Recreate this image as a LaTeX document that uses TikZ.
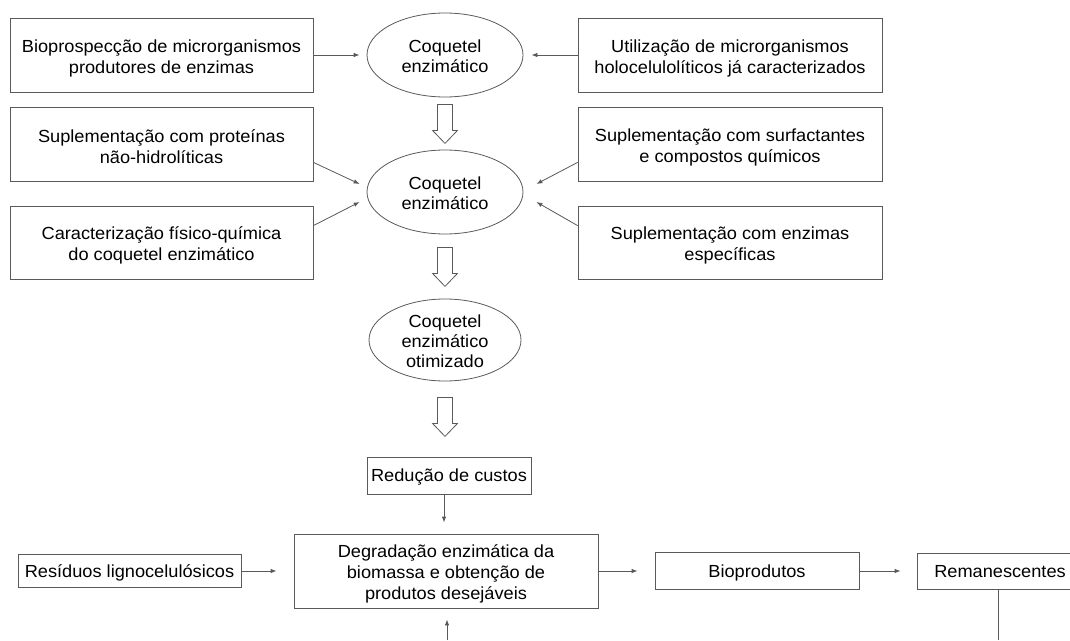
\documentclass[tikz,border=0pt]{standalone}
\usepackage{fontspec}
\setmainfont{Liberation Sans}[FakeStretch=1.04]
\usetikzlibrary{shapes.geometric,arrows.meta,calc}
\definecolor{linec}{RGB}{90,90,90}
\begin{document}
\begin{tikzpicture}[x=1pt,y=-1pt,
  every node/.style={font=\fontsize{17.5}{21}\selectfont, text=black},
  box/.style={draw=linec, line width=0.8pt, rectangle, inner sep=0pt, align=center},
  single/.style={text height=13pt, text depth=1pt},
  boxtext/.style={align=center, inner sep=0pt},
  oval/.style={draw=linec, line width=0.8pt, ellipse, inner sep=0pt, minimum width=156pt, minimum height=84pt},
  ovaltext/.style={align=center, inner sep=0pt, font=\fontsize{17.5}{20}\selectfont},
  conn/.style={draw=linec, line width=0.8pt, -{Latex[length=6pt,width=4.5pt]}},
  plainline/.style={draw=linec, line width=0.8pt},
  hollow/.style={draw=linec, line width=0.8pt, fill=white, line join=miter}]
\clip (0,0) rectangle (1070,640);
\fill[white] (0,0) rectangle (1070,640);

% top rows (frames, then their texts)
\node[box, minimum width=303pt, minimum height=74pt] (b1) at (161.5,55) {};
\node[boxtext] (b1t) at ($(b1)+(0,3)$) {Bioprospecção de microrganismos\\produtores de enzimas};
\node[box, minimum width=304pt, minimum height=74pt] (r1) at (730,55) {};
\node[boxtext] (r1t) at ($(r1)+(0,3)$) {Utilização de microrganismos\\holocelulolíticos já caracterizados};
\node[box, minimum width=303pt, minimum height=74pt] (b2) at (161.5,144) {};
\node[boxtext] (b2t) at ($(b2)+(0,3)$) {Suplementação com proteínas\\não-hidrolíticas};
\node[box, minimum width=304pt, minimum height=74pt] (r2) at (730,144) {};
\node[boxtext] (r2t) at ($(r2)+(0,3)$) {Suplementação com surfactantes\\e compostos químicos};
\node[box, minimum width=303pt, minimum height=73pt] (b3) at (161.5,242.5) {};
\node[boxtext] (b3t) at ($(b3)+(0,3)$) {Caracterização físico-química\\do coquetel enzimático};
\node[box, minimum width=304pt, minimum height=73pt] (r3) at (730,242.5) {};
\node[boxtext] (r3t) at ($(r3)+(0,3)$) {Suplementação com enzimas\\específicas};

% ellipses
\node[oval] (e1) at (445,55) {};
\node[ovaltext] (e1t) at ($(e1)+(0,1)$) {Coquetel\\enzimático};
\node[oval] (e2) at (445,192) {};
\node[ovaltext] (e2t) at ($(e2)+(0,1)$) {Coquetel\\enzimático};
\node[oval, minimum height=82pt, minimum width=152pt] (e3) at (445,340) {};
\node[ovaltext] (e3t) at ($(e3)+(0,1)$) {Coquetel\\enzimático\\otimizado};

% lower boxes
\node[box, single, minimum width=164pt, minimum height=37pt] (red) at (449,475.5) {Redução de custos};
\node[box, minimum width=304pt, minimum height=74pt] (deg) at (446,571) {};
\node[boxtext] (degt) at ($(deg)+(0,3)$) {Degradação enzimática da\\biomassa e obtenção de\\produtos desejáveis};
\node[box, single, minimum width=223pt, minimum height=33pt] (res) at (129.5,571) {Resíduos lignocelulósicos};
\node[box, single, minimum width=204pt, minimum height=37pt] (bio) at (757,571) {Bioprodutos};
\node[box, single, minimum width=166pt, minimum height=36pt] (rem) at (1000,571) {Remanescentes};

% free ends at the lower edge
\coordinate (remout) at (998,640);
\coordinate (degin) at (447,640);

% connectors into the first cocktail
\draw[conn] (b1.east) -- ($(e1.west)+(-7,0)$);
\draw[conn] (r1.west) -- ($(e1.east)+(8,0)$);

% connectors into the second cocktail
\draw[conn] ($(b2.south east)+(0,-19)$) -- ($(e2.west)+(-7,-8)$);
\draw[conn] ($(b3.north east)+(0,20)$) -- ($(e2.west)+(-7,10)$);
\draw[conn] ($(r2.south west)+(0,-19)$) -- ($(e2.east)+(13,-8)$);
\draw[conn] ($(r3.north west)+(0,20)$) -- ($(e2.east)+(13,10)$);

% hollow arrows
\draw[hollow] ($(e1.south)+(-7.5,7)$) -- ++(15,0) -- ++(0,26) -- ++(5,0) -- ++(-12.5,13) -- ++(-12.5,-13) -- ++(5,0) -- cycle;
\draw[hollow] ($(e2.south)+(-7.5,13)$) -- ++(15,0) -- ++(0,26) -- ++(5,0) -- ++(-12.5,13) -- ++(-12.5,-13) -- ++(5,0) -- cycle;
\draw[hollow] ($(e3.south)+(-7.5,16)$) -- ++(15,0) -- ++(0,26) -- ++(5,0) -- ++(-12.5,13) -- ++(-12.5,-13) -- ++(5,0) -- cycle;

% lower connectors
\draw[conn] ($(red.south)+(-5,0)$) -- ($(deg.north)+(-2,-11)$);
\draw[conn] (res.east) -- ($(deg.west)+(-17,0)$);
\draw[conn] (deg.east) -- ($(bio.west)+(-17,0)$);
\draw[conn] (bio.east) -- ($(rem.west)+(-16,0)$);
\draw[plainline] ($(rem.south)+(-2,0)$) -- (remout);
\draw[conn] (degin) -- ($(deg.south)+(1,11)$);
\end{tikzpicture}
\end{document}
